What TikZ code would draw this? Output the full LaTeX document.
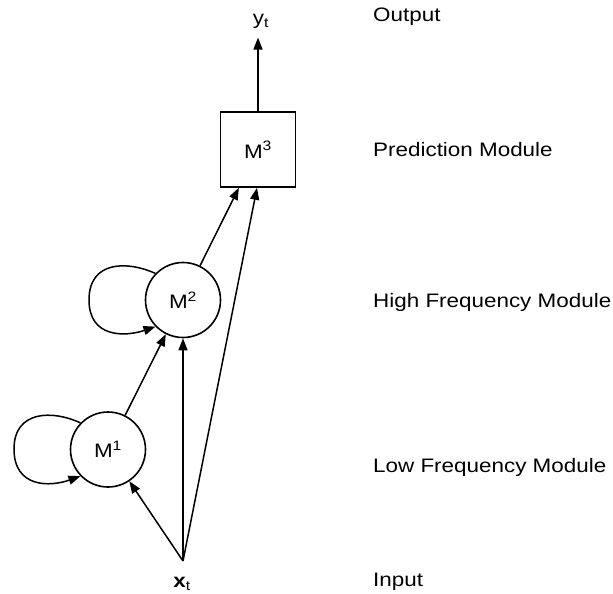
\documentclass[tikz,border=0pt]{standalone}
\usepackage{fontspec}
\setmainfont{Liberation Sans}[FakeStretch=1.15]
\usetikzlibrary{arrows.meta,calc}
\begin{document}
\begin{tikzpicture}[x=1pt,y=-1pt,
  every node/.style={font=\fontsize{19.5}{23}\selectfont},
  modcirc/.style={draw,circle,line width=1.6pt,minimum size=75pt,inner sep=0pt},
  modbox/.style={draw,rectangle,line width=1.6pt,minimum size=75pt,inner sep=0pt},
  arr/.style={line width=1.5pt,-{Triangle[length=12pt,width=9pt]}},
  lbl/.style={anchor=base west,inner sep=0pt}
]
\useasboundingbox (0,0) rectangle (613,594);
\node[modbox] (M3) at (258,149.5) {M\textsuperscript{3}};
\node[modcirc] (M2) at (183,300) {M\textsuperscript{2}};
\node[modcirc] (M1) at (108,449.5) {M\textsuperscript{1}};
\node[anchor=base,inner sep=0pt,outer sep=9pt] (yt) at (261,24.5) {y\textsubscript{t}};
\node[anchor=base,inner sep=0pt] (xt) at (182,587) {\textbf{x}\textsubscript{t}};
\coordinate (xs) at (183,561);
% labels
\node[lbl] (lout) at (373,22) {Output};
\node[lbl] (lpred) at (373,156) {Prediction Module};
\node[lbl] (lhigh) at (373,307) {High Frequency Module};
\node[lbl] (llow) at (373,472) {Low Frequency Module};
\node[lbl] (lin) at (373,586) {Input};
% connectors
\draw[arr] (M3.north) -- (M3.north |- yt.south);
\draw[arr] (xs) -- (M1);
\draw[arr] (xs) -- (M2);
\draw[arr] (xs) -- ([xshift=-1pt]M3.south);
\draw[arr] (M1) -- (M2);
\draw[arr] (M2) -- ($(M3.south west)!0.25!(M3.south east)$);
% self loops
\draw[arr] (M2.136) .. controls (128,261) and (89,260) .. (89,300)
  .. controls (89,338) and (125,337) .. (M2.224);
\draw[arr] (M1.136) .. controls (53,410) and (14,410) .. (14,449)
  .. controls (14,488) and (50,487) .. (M1.224);
\end{tikzpicture}
\end{document}
